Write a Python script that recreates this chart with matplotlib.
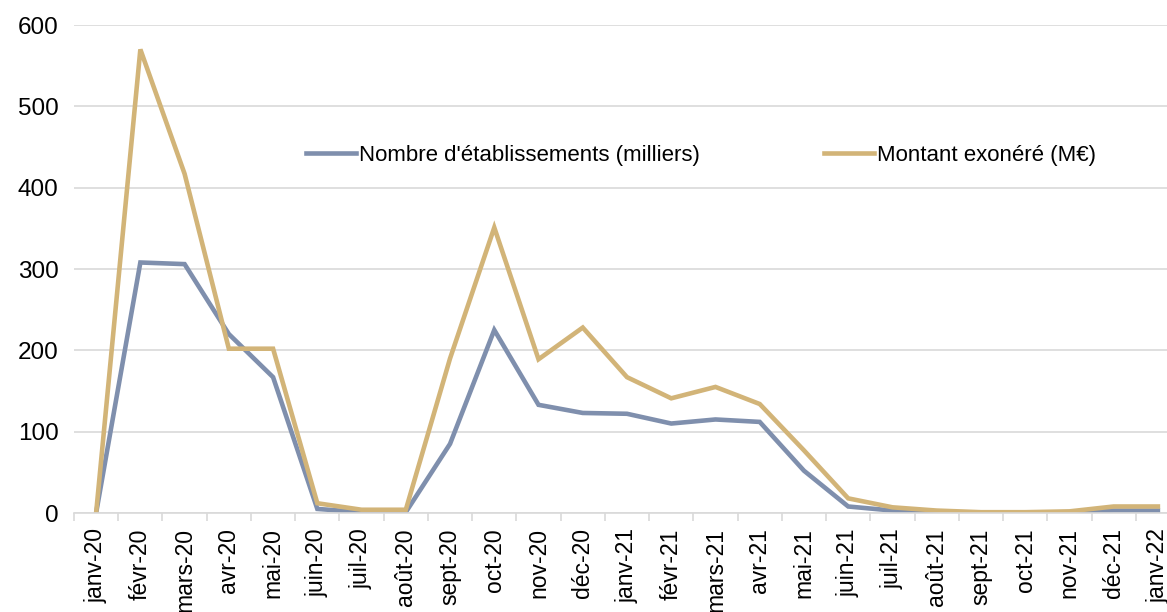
import matplotlib
matplotlib.use("Agg")
import matplotlib.pyplot as plt
import numpy as np

plt.rcParams['font.family'] = ['Liberation Sans', 'DejaVu Sans']

months = ["janv-20", "févr-20", "mars-20", "avr-20", "mai-20", "juin-20", "juil-20",
          "août-20", "sept-20", "oct-20", "nov-20", "déc-20", "janv-21", "févr-21",
          "mars-21", "avr-21", "mai-21", "juin-21", "juil-21", "août-21", "sept-21",
          "oct-21", "nov-21", "déc-21", "janv-22"]
nombre = [0, 308, 306, 220, 167, 5, 1, 1, 85, 225, 133, 123, 122, 110, 115, 112,
          52, 8, 3, 1, 0.5, 0.5, 1, 3, 3]
montant = [0, 570, 417, 202, 202, 12, 4, 4, 190, 351, 189, 228, 167, 141, 155, 134,
           77, 18, 7, 3, 1, 1, 2, 8, 8]
label_nombre = "Nombre d'établissements (milliers)"
label_montant = "Montant exonéré (M€)"

W, H = 1167, 612
fig = plt.figure(figsize=(W / 100, H / 100), dpi=100)
ax = fig.add_axes([74 / W, (H - 513) / H, (1180 - 74) / W, (513 - 25) / H])

x = np.arange(len(months))
l1, = ax.plot(x, nombre, color='#7f8fad', lw=3.3, solid_joinstyle='miter', label=label_nombre)
l2, = ax.plot(x, montant, color='#d2b478', lw=3.3, solid_joinstyle='miter', label=label_montant)

ax.set_xlim(-0.5, len(months) - 0.5)
ax.set_ylim(0, 600)
ax.set_yticks(range(0, 601, 100))
ax.yaxis.grid(True, color='#d9d9d9', lw=1.2)
ax.set_axisbelow(True)
for s in ['top', 'right', 'left']:
    ax.spines[s].set_visible(False)
ax.spines['bottom'].set_color('#d9d9d9')
ax.spines['bottom'].set_linewidth(1.2)
ax.tick_params(axis='y', length=0, labelsize=17.5, pad=11)

ax.set_xticks(x)
ax.set_xticklabels(months, rotation=90, fontsize=16.5)
ax.set_xticks(np.arange(-0.5, len(months), 1), minor=True)
ax.tick_params(axis='x', which='major', length=0, pad=11)
ax.tick_params(axis='x', which='minor', length=6, color='#d9d9d9', width=1.2)

leg_fs = 16
leg1 = fig.legend(handles=[l1], loc='center left', bbox_to_anchor=(306 / W, 1 - 155 / H),
                  frameon=False, fontsize=leg_fs, handlelength=2.25, handletextpad=0.15,
                  borderaxespad=0, borderpad=0)
leg2 = fig.legend(handles=[l2], loc='center left', bbox_to_anchor=(824 / W, 1 - 155 / H),
                  frameon=False, fontsize=leg_fs, handlelength=2.25, handletextpad=0.15,
                  borderaxespad=0, borderpad=0)

fig.savefig("out.png", dpi=100)
